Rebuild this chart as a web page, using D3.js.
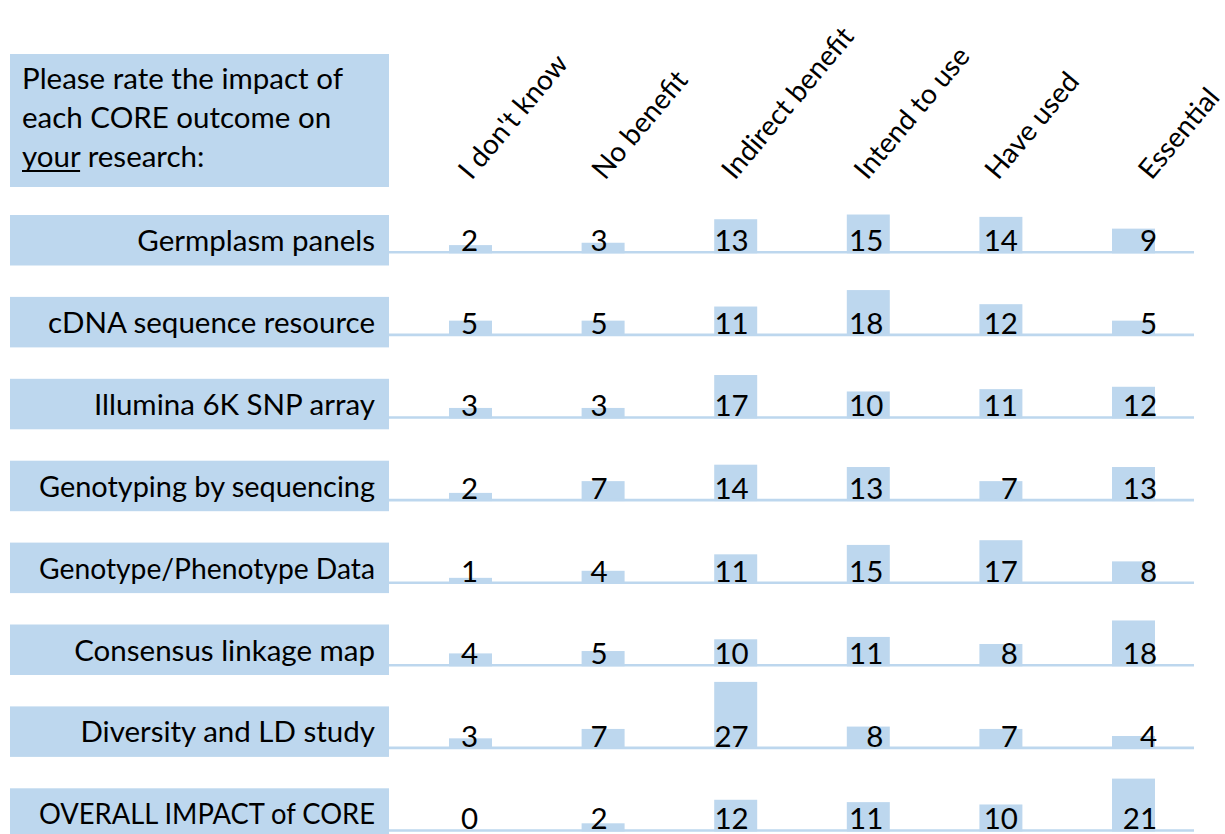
<!DOCTYPE html>
<html>
<head>
<meta charset="utf-8">
<script src="https://cdn.jsdelivr.net/npm/d3@7"></script>
<style>
  html, body { margin: 0; padding: 0; background: #fff; }
  svg { display: block; font-family: Lato, "Open Sans", sans-serif; }
</style>
</head>
<body>
<svg id="chart" width="1225" height="834"></svg>
<script>
// ---------------- data ----------------
const outcomes = [
  "Germplasm panels",
  "cDNA sequence resource",
  "Illumina 6K SNP array",
  "Genotyping by sequencing",
  "Genotype/Phenotype Data",
  "Consensus linkage map",
  "Diversity and LD study",
  "OVERALL IMPACT of CORE"
];
const ratings = ["I don't know", "No benefit", "Indirect benefit", "Intend to use", "Have used", "Essential"];

const dontKnow       = [2, 5, 3, 2, 1, 4, 3, 0];
const noBenefit      = [3, 5, 3, 7, 4, 5, 7, 2];
const indirectBenefit= [13, 11, 17, 14, 11, 10, 27, 12];
const intendToUse    = [15, 18, 10, 13, 15, 11, 8, 11];
const haveUsed       = [14, 12, 11, 7, 17, 8, 7, 10];
const essential      = [9, 5, 12, 13, 8, 18, 4, 21];

const question = ["Please rate the impact of", "each CORE outcome on", "research:"];
const emphasis = "your";

// ---------------- layout ----------------
const series = [dontKnow, noBenefit, indirectBenefit, intendToUse, haveUsed, essential];
const fill = "#BDD7EE";
const fontSize = 29.5;
const headerFont = 28;
const headerDx = [1, 2, -1, -1, -3, 18];        // rotated header anchor tweaks
const numDx = [7.5, 4.5, 13, 15, 17, 23.5];     // right edge of value labels vs column centre
const labelMaxW = 336;

const svg = d3.select("#chart");

const x = d3.scalePoint().domain(ratings).range([470.5, 1133.5]);
const rowLine = d3.scalePoint().domain(outcomes).range([252.3, 830.5]);
const rowBox = d3.scalePoint().domain(outcomes).range([215, 788.3]);
const h = d3.scaleLinear().domain([0, 27]).range([2.5, 66]);
const barW = 43;
const boxX0 = 10, boxX1 = 389, lineX1 = 1194;

// question box
svg.append("rect").attr("x", boxX0).attr("y", 54).attr("width", boxX1 - boxX0).attr("height", 133).attr("fill", fill);
const qg = svg.append("g").attr("font-size", fontSize).attr("fill", "#000");
qg.append("text").attr("x", 22).attr("y", 89.3).text(question[0]);
qg.append("text").attr("x", 22).attr("y", 128.2).text(question[1]);
const t3 = qg.append("text").attr("x", 22).attr("y", 166.7);
t3.append("tspan").text(emphasis);
t3.append("tspan").text(" " + question[2]);
const yourW = t3.node().getSubStringLength(0, emphasis.length);
qg.append("rect").attr("x", 22).attr("y", 170).attr("width", yourW).attr("height", 2).attr("fill", "#000");

// column headers
svg.append("g").selectAll("text").data(ratings).join("text")
  .attr("transform", (d, i) => `translate(${x(d) + headerDx[i]},181) rotate(-50)`)
  .attr("font-size", headerFont).attr("fill", "#000")
  .text(d => d);

// rows
const rows = svg.append("g").selectAll("g").data(outcomes).join("g");

rows.append("rect")
  .attr("x", boxX0).attr("y", d => rowBox(d))
  .attr("width", boxX1 - boxX0).attr("height", 50.5)
  .attr("fill", fill);

rows.append("text")
  .attr("x", 375).attr("y", d => rowBox(d) + 36)
  .attr("text-anchor", "end").attr("font-size", fontSize).attr("fill", "#000")
  .text(d => d)
  .each(function () {
    if (this.getComputedTextLength() > labelMaxW) {
      d3.select(this).attr("textLength", labelMaxW).attr("lengthAdjust", "spacingAndGlyphs");
    }
  });

// bars
rows.each(function (rowName, ri) {
  const g = d3.select(this);
  const cells = ratings.map((r, ci) => ({ r, ci, v: series[ci][ri] }));
  const base = rowLine(rowName);
  g.selectAll("rect.bar").data(cells.filter(c => c.v > 0)).join("rect")
    .attr("class", "bar")
    .attr("x", c => x(c.r) - barW / 2)
    .attr("y", c => base - h(c.v))
    .attr("width", barW)
    .attr("height", c => h(c.v) + 1)
    .attr("fill", fill);
  g.append("line")
    .attr("x1", boxX1).attr("x2", lineX1)
    .attr("y1", base).attr("y2", base)
    .attr("stroke", fill).attr("stroke-width", 2.6);
  g.selectAll("text.val").data(cells).join("text")
    .attr("class", "val")
    .attr("x", c => x(c.r) + numDx[c.ci])
    .attr("y", base - 1.2)
    .attr("text-anchor", "end")
    .attr("font-size", fontSize).attr("fill", "#000")
    .text(c => c.v);
});
</script>
</body>
</html>
